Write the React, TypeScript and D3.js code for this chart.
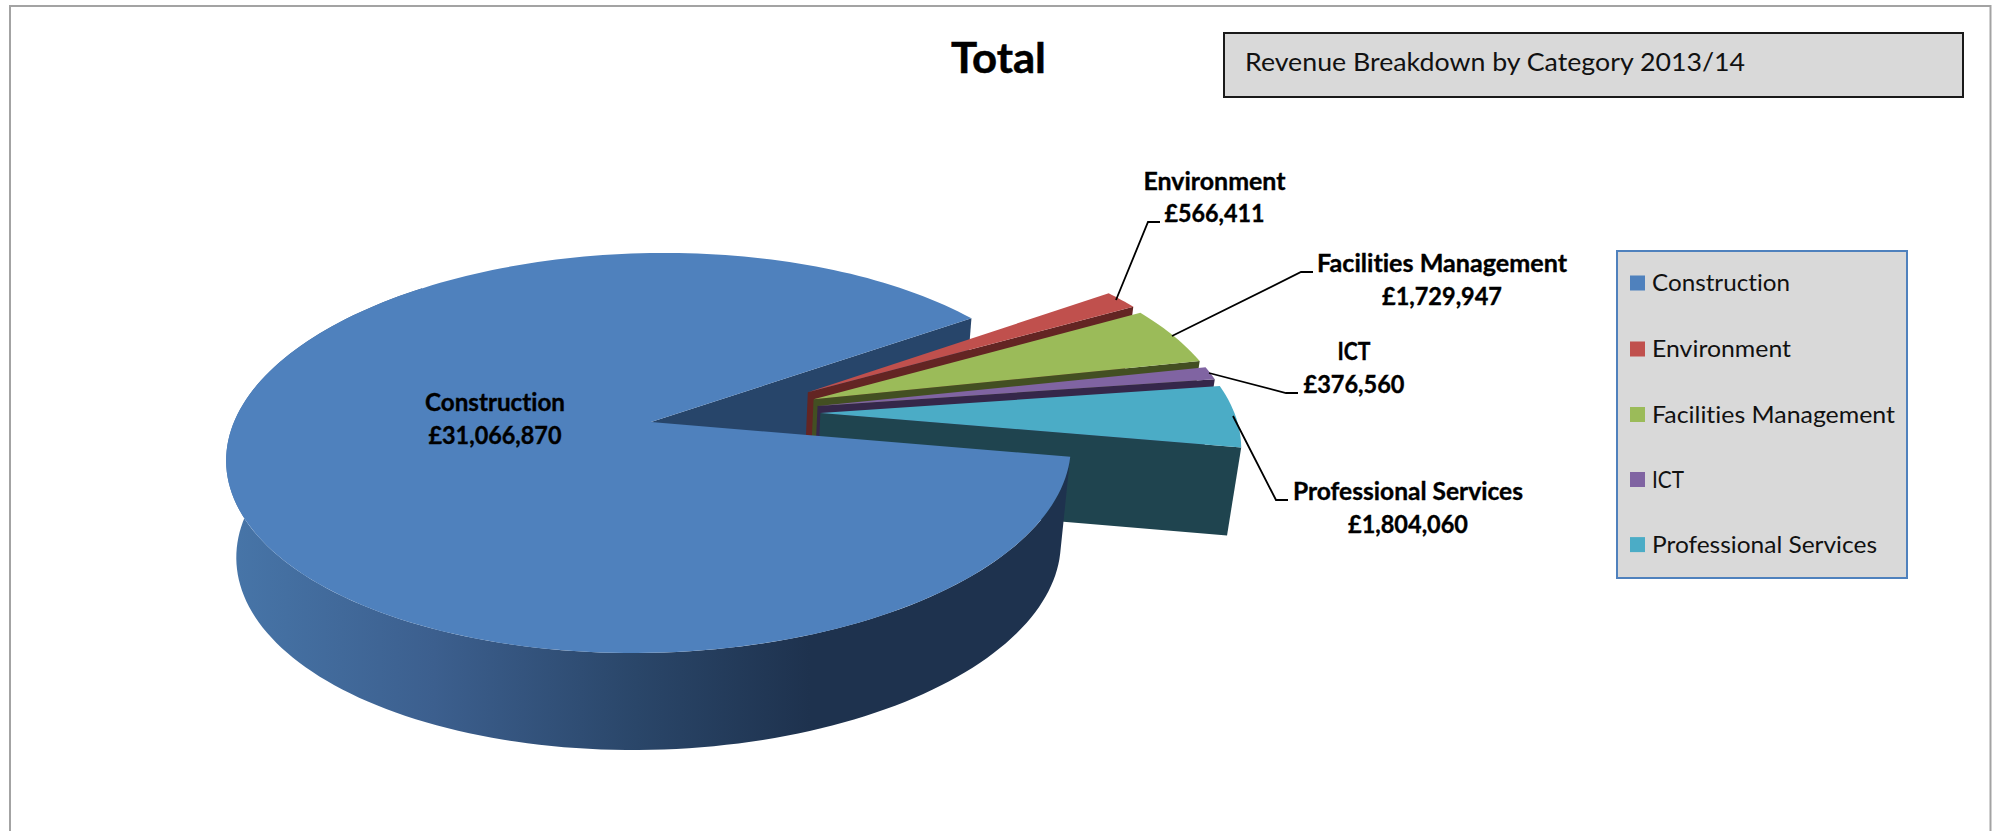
import React from "react";
import * as d3 from "d3";

// Revenue by category, 2013/14 (GBP)
const categories = ["Construction", "Environment", "Facilities Management", "ICT", "Professional Services"];
const revenue = [31066870, 566411, 1729947, 376560, 1804060];
const topColours = ["#4f81bd", "#c0504d", "#9bbb59", "#8064a2", "#4bacc6"];
const wallColours = ["#27456a", "#632523", "#434f22", "#35274a", "#1f444f"];
const chartTitle = "Total";
const boxTitle = "Revenue Breakdown by Category 2013/14";

const W = 1993;
const H = 831;
const FONT = "Lato, 'Open Sans', sans-serif";
const rad = (deg: number) => (deg * Math.PI) / 180;

// Camera: a unit-circle pie lying flat, projected so that its centre lands on
// (originX, originY). `tilt` is the perspective term along the depth axis and
// `shear` leans the ellipse slightly, as an off-axis viewpoint does.
const originX = 651;
const originY = 422;
const radius = 417;
const tilt = 0.155;
const lift = -129.8;
const shear = 0.08;

type Pt = [number, number];

const project = (u: number, v: number): Pt => {
  const w = 1 + tilt * v;
  const y = (originY + lift * v) / w;
  return [originX + (radius * u) / w - shear * (y - originY), y];
};

// Carries a point on the top face down to the base of the extruded pie.
const mainDepth = 97;
const slicesDepth = 88;
const extrude = ([x, y]: Pt, depth: number): Pt => [650 + (x - 650) * 0.976, y + depth];

const explodeDistance = 0.41;
const explodeOffset = (midDeg: number): Pt => {
  const dir = rad(76 + (midDeg - 75) * 0.475);
  return [explodeDistance * Math.sin(dir), explodeDistance * Math.cos(dir)];
};

const pieLayout = d3
  .pie<number>()
  .sort(null)
  .startAngle(rad(100))
  .endAngle(rad(460));
const arcs = pieLayout(revenue);

const arcPoints = (a0: number, a1: number, off: Pt): Pt[] => {
  const n = Math.max(8, Math.ceil(Math.abs(a1 - a0) / rad(1.5)));
  return d3.range(n + 1).map((i) => {
    const a = a0 + ((a1 - a0) * i) / n;
    return project(off[0] + Math.sin(a), off[1] + Math.cos(a));
  });
};

const line = d3.line<Pt>().curve(d3.curveLinear);
const closed = (pts: Pt[]) => `${line(pts)}Z`;

const topFace = (a0: number, a1: number, off: Pt) => closed([project(off[0], off[1]), ...arcPoints(a0, a1, off)]);

// Radial wall along the given edge angle.
const radialWall = (angle: number, off: Pt, depth: number) => {
  const inner = project(off[0], off[1]);
  const outer = project(off[0] + Math.sin(angle), off[1] + Math.cos(angle));
  return closed([inner, outer, extrude(outer, depth), extrude(inner, depth)]);
};

const money = (v: number) => `£${d3.format(",")(v)}`;

type Callout = {
  cx: number;
  y1: number;
  y2: number;
  w1: number;
  w2: number;
  leader?: Pt[];
};

// Label placement, in the same order as the categories.
const callouts: Callout[] = [
  { cx: 495, y1: 411, y2: 444, w1: 140, w2: 133 },
  { cx: 1214.5, y1: 190, y2: 222, w1: 142, w2: 100, leader: [[1116, 300], [1148, 222], [1160, 222]] },
  { cx: 1442, y1: 272, y2: 305, w1: 250, w2: 120, leader: [[1172, 336], [1301, 272], [1313, 272]] },
  { cx: 1354, y1: 360, y2: 393, w1: 33, w2: 101, leader: [[1209, 373], [1286, 393], [1298, 393]] },
  { cx: 1408, y1: 500, y2: 533, w1: 230, w2: 120, leader: [[1233, 416], [1276, 500], [1288, 500]] },
];

const legendRows = [283, 349, 414.5, 479.5, 544.6];
const legendWidths = [138, 139, 243, 32, 225];

const noLigatures: React.CSSProperties = { fontVariantLigatures: "none" };

export default function App() {
  const main = arcs[0];
  const noOffset: Pt = [0, 0];

  // Outer rim of the large slice: from its trailing edge round the front to the far left.
  const rimTop = arcPoints(main.startAngle, rad(320), noOffset);
  const rimPath = closed([...rimTop, ...rimTop.map((p) => extrude(p, mainDepth)).reverse()]);

  const exploded = arcs.slice(1).map((a) => {
    const mid = (((a.startAngle + a.endAngle) / 2) * 180) / Math.PI - 360;
    return { a, off: explodeOffset(mid) };
  });

  return (
    <svg
      width={W}
      height={H}
      viewBox={`0 0 ${W} ${H}`}
      style={{ position: "absolute", left: 0, top: 0, display: "block" }}
    >
      <defs>
        <linearGradient id="rim" gradientUnits="userSpaceOnUse" x1={232} y1={0} x2={810} y2={0}>
          <stop offset="0" stopColor="#4775a8" />
          <stop offset="0.35" stopColor="#3c5f8e" />
          <stop offset="0.7" stopColor="#2a4669" />
          <stop offset="1" stopColor="#1e324e" />
        </linearGradient>
      </defs>

      <rect width={W} height={H} fill="#fff" />
      <path d={`M10,${H}V6H1990.5V${H}`} fill="none" stroke="#a3a3a3" strokeWidth={2} />

      <text x={998.5} y={73} textAnchor="middle" fontFamily={FONT} fontWeight={700} fontSize={42} textLength={95} lengthAdjust="spacingAndGlyphs" fill="#000" stroke="#000" strokeWidth={0.5}>
        {chartTitle}
      </text>

      <rect x={1224} y={33} width={739} height={64} fill="#d9d9d9" stroke="#1a1a1a" strokeWidth={2} />
      <text x={1245} y={71} fontFamily={FONT} fontSize={25} textLength={500} lengthAdjust="spacingAndGlyphs" fill="#111" style={noLigatures}>
        {boxTitle}
      </text>

      {/* Back wall of the large slice sits behind everything else */}
      <path d={radialWall(main.endAngle, noOffset, mainDepth)} fill={wallColours[0]} />

      {/* Pulled-out slices, back to front */}
      {exploded.map(({ a, off }) => (
        <g key={a.index}>
          <path d={radialWall(a.endAngle, off, slicesDepth)} fill={wallColours[a.index]} />
          <path d={topFace(a.startAngle, a.endAngle, off)} fill={topColours[a.index]} />
        </g>
      ))}

      <path d={rimPath} fill="url(#rim)" />
      <path d={topFace(main.startAngle, main.endAngle, noOffset)} fill={topColours[0]} />

      {callouts.map((c, i) => (
        <g key={categories[i]}>
          {c.leader && <path d={line(c.leader) ?? ""} fill="none" stroke="#000" strokeWidth={1.8} />}
          <text x={c.cx} y={c.y1} textAnchor="middle" fontFamily={FONT} fontWeight={700} fontSize={24} textLength={c.w1} lengthAdjust="spacingAndGlyphs" fill="#000" stroke="#000" strokeWidth={0.35} style={noLigatures}>
            {categories[i]}
          </text>
          <text x={c.cx} y={c.y2} textAnchor="middle" fontFamily={FONT} fontWeight={700} fontSize={24} textLength={c.w2} lengthAdjust="spacingAndGlyphs" fill="#000" stroke="#000" strokeWidth={0.35} style={noLigatures}>
            {money(revenue[i])}
          </text>
        </g>
      ))}

      <rect x={1617} y={251} width={290} height={327} fill="#d9d9d9" stroke="#4f81bd" strokeWidth={2} />
      {categories.map((name, i) => (
        <g key={name}>
          <rect x={1630} y={legendRows[i] - 7.5} width={15} height={15} fill={topColours[i]} />
          <text x={1652} y={legendRows[i] + 8} fontFamily={FONT} fontSize={24} textLength={legendWidths[i]} lengthAdjust="spacingAndGlyphs" fill="#111" style={noLigatures}>
            {name}
          </text>
        </g>
      ))}
    </svg>
  );
}
